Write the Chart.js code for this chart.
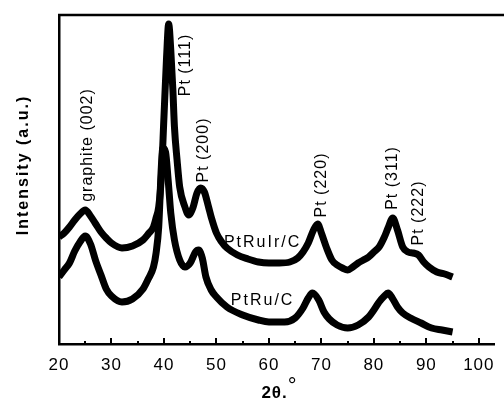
<!DOCTYPE html>
<html>
<head>
<meta charset="utf-8">
<script src="https://cdn.jsdelivr.net/npm/chart.js@4/dist/chart.umd.min.js"></script>
<style>
  html, body { margin: 0; padding: 0; background: #fff; }
  #wrap { width: 504px; height: 407px; }
</style>
</head>
<body>
<div id="wrap"><canvas id="xrd"></canvas></div>
<script>
"use strict";

// 2θ (degrees) and intensity (a.u.)
const ptRuIrAngle = [20, 21, 22, 23, 24, 25, 26, 27, 28, 29, 30, 32, 34, 36, 37, 38, 38.5, 39, 39.5, 40, 40.5, 40.9,
  41.3, 41.7, 42, 42.5, 43, 44, 44.7, 45.5, 46.3, 47, 47.7, 48.5, 49, 50, 51, 52, 54, 56, 58, 60, 62, 64, 65.5,
  66.5, 67.5, 68.5, 69.3, 70, 71, 72, 73, 74, 75, 76, 77, 78, 79, 80, 81, 82, 82.7, 83.6, 84.5, 85.5, 86.5, 87.5,
  88.5, 89.5, 90.5, 92, 93.5, 95];
const ptRuIrIntensity = [107, 111, 117, 124, 130, 134, 128, 120, 112, 106, 101, 96, 98, 104, 110, 117, 126, 137,
  167, 227, 287, 320, 294, 254, 217, 184, 157, 137, 129, 136, 151, 156, 152, 137, 127, 111, 102, 96, 89, 85, 82, 81,
  81, 82, 86, 92, 101, 114, 120, 111, 96, 84, 79, 76, 74, 77, 81, 84, 87, 92, 97, 107, 116, 126, 114, 97, 92, 91,
  89, 82, 77, 72, 70, 67];

const ptRuAngle = [20, 21, 22, 23, 24, 25, 26, 27, 28, 29, 30, 32, 34, 36, 37, 38, 38.5, 39, 39.5, 39.8, 40.3, 40.8,
  41.3, 42, 43, 44, 45, 46, 46.6, 47.3, 48, 49, 50, 52, 55, 58, 60, 63, 65, 66.5, 67.5, 68.3, 69.5, 70.5, 71.5, 73,
  75, 77, 79, 80, 81, 82, 82.7, 83.5, 84.5, 85.5, 87, 89, 91, 93, 95];
const ptRuIntensity = [67, 74, 81, 93, 102, 108, 100, 83, 69, 55, 48, 42, 45, 55, 65, 77, 91, 117, 177, 196, 192,
  164, 131, 104, 84, 77, 81, 92, 94, 86, 67, 54, 47, 37, 29, 24, 22, 22, 26, 36, 46, 51, 44, 32, 25, 19, 16, 19, 27,
  34, 42, 48, 51, 46, 37, 31, 26, 21, 16, 14, 12];

const tickValues = [20, 25, 30, 35, 40, 45, 50, 55, 60, 65, 70, 75, 80, 85, 90, 95, 100];
const tickLabels = ["20", "30", "40", "50", "60", "70", "80", "90", "100"];

const peakLabels = ["graphite (002)", "Pt (111)", "Pt (200)", "Pt (220)", "Pt (311)", "Pt (222)"];
const sampleNames = ["PtRuIr/C", "PtRu/C"];

// where the annotations sit, in data units
const peakAnchors = [[25.4, 199], [44.1, 279], [47.6, 194], [70.0, 159], [83.6, 166], [88.6, 131]];
const sampleAnchors = [[58.8, 101], [58.8, 43]];

const zip = (xs, ys) => xs.map((x, i) => ({ x, y: ys[i] }));
const FONT = "'Liberation Sans', Arial, Helvetica, sans-serif";

const decor = {
  id: "decor",
  beforeDraw(chart) {
    chart.ctx.letterSpacing = "1px";
  },
  afterDatasetsDraw(chart) {
    const { ctx, chartArea: a, scales: { x, y } } = chart;
    ctx.save();
    ctx.strokeStyle = "#000";
    ctx.lineWidth = 2;
    // inward ticks on the 2θ axis
    tickValues.forEach((v) => {
      const px = Math.round(x.getPixelForValue(v));
      const len = v % 10 === 0 ? 6 : 3;
      ctx.beginPath();
      ctx.moveTo(px, a.bottom);
      ctx.lineTo(px, a.bottom - len);
      ctx.stroke();
    });
    // top frame line
    ctx.lineWidth = 2.5;
    ctx.beginPath();
    ctx.moveTo(a.left - 1, a.top);
    ctx.lineTo(chart.width, a.top);
    ctx.stroke();

    ctx.fillStyle = "#000";
    ctx.textAlign = "center";
    ctx.textBaseline = "middle";
    ctx.font = "16px " + FONT;
    ctx.letterSpacing = "1px";
    peakLabels.forEach((t, i) => {
      ctx.save();
      ctx.translate(x.getPixelForValue(peakAnchors[i][0]), y.getPixelForValue(peakAnchors[i][1]));
      ctx.rotate(-Math.PI / 2);
      ctx.fillText(t, 0, 0);
      ctx.restore();
    });
    ctx.letterSpacing = "2px";
    sampleNames.forEach((t, i) => {
      ctx.fillText(t, x.getPixelForValue(sampleAnchors[i][0]), y.getPixelForValue(sampleAnchors[i][1]));
    });

    // axis titles
    ctx.font = "bold 16px " + FONT;
    ctx.save();
    ctx.translate(24, a.top + 150);
    ctx.rotate(-Math.PI / 2);
    ctx.fillText("Intensity (a.u.)", 0, 0);
    ctx.restore();

    ctx.letterSpacing = "1px";
    const cx = (a.left + a.right) / 2 + 3;
    ctx.textAlign = "right";
    ctx.font = "bold 17px " + FONT;
    ctx.fillText("2θ.", cx + 8, chart.height - 14);
    ctx.textAlign = "left";
    ctx.font = "22px " + FONT;
    ctx.fillText("°", cx + 8, chart.height - 20);
    ctx.restore();
  },
};

new Chart(document.getElementById("xrd"), {
  type: "line",
  data: {
    datasets: [
      { label: sampleNames[0], data: zip(ptRuIrAngle, ptRuIrIntensity) },
      { label: sampleNames[1], data: zip(ptRuAngle, ptRuIntensity) },
    ].map((d) => ({
      ...d,
      borderColor: "#000",
      borderWidth: 7,
      borderJoinStyle: "round",
      pointRadius: 0,
      cubicInterpolationMode: "monotone",
      fill: false,
    })),
  },
  options: {
    animation: false,
    responsive: true,
    maintainAspectRatio: false,
    layout: { padding: { top: 15, right: 0, bottom: 0, left: 0 } },
    plugins: { legend: { display: false }, tooltip: { enabled: false } },
    scales: {
      x: {
        type: "linear",
        min: 20,
        max: 103,
        afterBuildTicks: (s) => { s.ticks = tickValues.map((value) => ({ value })); },
        afterFit: (s) => { s.height = 63; },
        grid: { display: false, drawTicks: false },
        border: { display: true, color: "#000", width: 2.5 },
        ticks: {
          color: "#000",
          padding: 11,
          maxRotation: 0,
          autoSkip: false,
          font: { family: FONT, size: 17 },
          callback: (v) => (v % 10 === 0 ? tickLabels[(v - 20) / 10] : ""),
        },
      },
      y: {
        min: 0,
        max: 329,
        afterFit: (s) => { s.width = 59; },
        grid: { display: false, drawTicks: false },
        border: { display: true, color: "#000", width: 2.5 },
        ticks: { display: false },
      },
    },
  },
  plugins: [decor],
});
</script>
</body>
</html>
